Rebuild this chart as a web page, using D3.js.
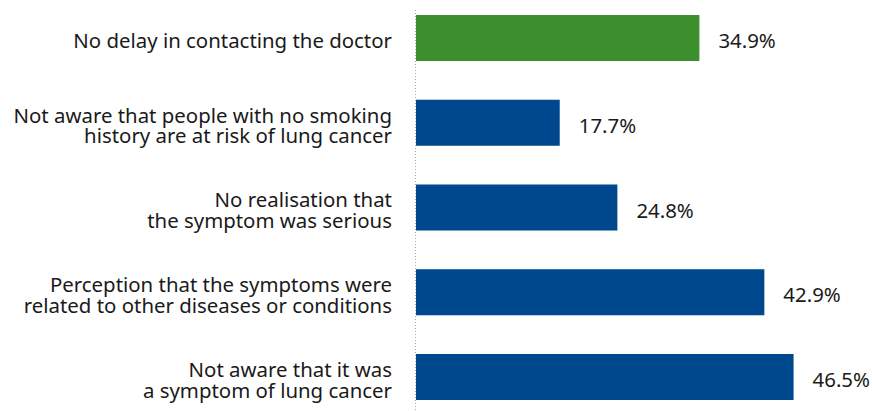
<!DOCTYPE html>
<meta charset="utf-8">
<style>
body { margin: 0; background: #fff; }
text { font-family: "Noto Sans", "Open Sans", sans-serif; fill: #1a1a1a; }
.label { font-size: 20.4px; }
.value { font-size: 20.4px; }
</style>
<svg id="chart" width="872" height="411"></svg>
<script src="https://cdn.jsdelivr.net/npm/d3@7"></script>
<script>

var categories = [
  ["No delay in contacting the doctor"],
  ["Not aware that people with no smoking", "history are at risk of lung cancer"],
  ["No realisation that", "the symptom was serious"],
  ["Perception that the symptoms were", "related to other diseases or conditions"],
  ["Not aware that it was", "a symptom of lung cancer"]
];
var values = [34.9, 17.7, 24.8, 42.9, 46.5];
var highlight = [true, false, false, false, false];

var svg = d3.select("svg"),
    left = 416;

var x = d3.scaleLinear().domain([0, 50]).range([left, left + 406]);
var y = d3.scaleBand()
    .domain(d3.range(values.length))
    .range([15, 400])
    .paddingInner(0.457)
    .paddingOuter(0);

// dotted axis line
svg.append("line")
    .attr("x1", left - 0.5).attr("x2", left - 0.5)
    .attr("y1", 10).attr("y2", 411)
    .attr("stroke", "#aaa")
    .attr("stroke-width", 1)
    .attr("stroke-dasharray", "1,2");

svg.selectAll(".bar")
    .data(values)
  .enter().append("rect")
    .attr("class", "bar")
    .attr("x", x(0))
    .attr("y", function(d, i) { return y(i); })
    .attr("width", function(d) { return x(d) - x(0); })
    .attr("height", y.bandwidth())
    .attr("fill", function(d, i) { return highlight[i] ? "#3c8f2c" : "#00488e"; });

// text baseline sits ~10px under the bar centre
var base = 10.2;

svg.selectAll(".value")
    .data(values)
  .enter().append("text")
    .attr("class", "value")
    .attr("x", function(d) { return x(d) + 19; })
    .attr("y", function(d, i) { return y(i) + y.bandwidth() / 2 + base; })
    .text(function(d) { return d.toFixed(1) + "%"; });

var lineH = 20.7;
svg.selectAll(".label")
    .data(categories)
  .enter().append("text")
    .attr("class", "label")
    .attr("text-anchor", "end")
    .each(function(lines, i) {
      var t = d3.select(this),
          cy = y(i) + y.bandwidth() / 2 + base;
      lines.forEach(function(s, j) {
        t.append("tspan")
          .attr("x", 392)
          .attr("y", cy + (j - (lines.length - 1) / 2) * lineH)
          .text(s);
      });
    });

</script>
